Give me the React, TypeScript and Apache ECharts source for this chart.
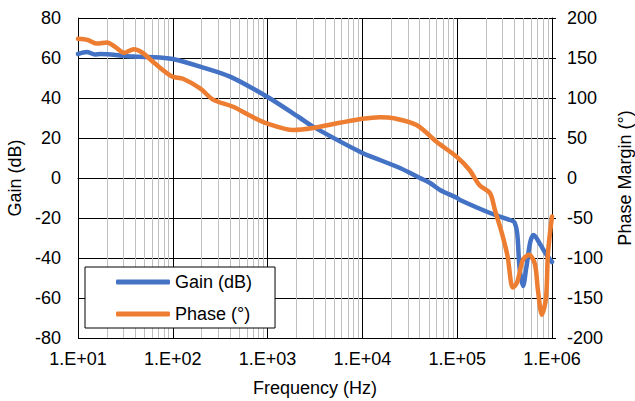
import React, { useEffect, useRef } from "react";
import * as echarts from "echarts";

// Gain (dB) readings
const gainFreq = [10, 12.4, 15.1, 17.1, 38, 73, 100, 194, 401, 1000, 2200, 3010, 10000, 15300, 24900, 40500, 51700, 65900, 100000, 107000, 222000, 361000, 400000, 430000, 455000, 495000, 535000, 590000, 640000, 747000, 865000, 1000000];
const gainDb = [62, 63, 61.8, 62, 60.7, 60.3, 59.5, 55.7, 50.7, 40.5, 30, 25.7, 12.5, 9, 5, 0, -2.5, -6, -10, -11, -17.5, -21, -22, -28, -45, -54, -45, -32, -28.5, -33, -38, -42];

// Phase (°) readings
const phaseFreq = [10, 12.7, 15.9, 20.2, 24.6, 30.6, 38.9, 47.3, 65, 98, 128, 194, 266, 433, 650, 1000, 1860, 3010, 5800, 10000, 15300, 22000, 37600, 61000, 100000, 135000, 172000, 222000, 250000, 296000, 340000, 386000, 427000, 495000, 574000, 661000, 710000, 782000, 865000, 907000, 1000000];
const phaseDeg = [174, 172.5, 168, 169.5, 164, 156.5, 161, 157, 143, 127, 124, 112, 98, 89, 78, 68, 60, 62.5, 69, 74, 76, 74.5, 66, 45, 26, 10, -9, -19, -40, -69, -98, -137, -131, -102, -96, -108, -140, -171, -150, -94, -48];

// Axis settings
const freqMin = 10;
const freqMax = 1000000;
const gainTicks = { min: -80, max: 80, interval: 20 };
const phaseTicks = { min: -200, max: 200, interval: 50 };

const minorFreqs: number[] = [];
for (let d = 1; d < 6; d++) {
  for (let k = 2; k <= 9; k++) minorFreqs.push(k * Math.pow(10, d));
}

const FONT = "'Liberation Sans', Arial, sans-serif";

export default function App() {
  const ref = useRef<HTMLDivElement>(null);
  useEffect(() => {
    if (!ref.current) return;
    const chart = echarts.init(ref.current, undefined, { renderer: "svg" });
    const gainData = gainFreq.map((f, i) => [f, gainDb[i]]);
    const phaseData = phaseFreq.map((f, i) => [f, phaseDeg[i]]);
    chart.setOption({
      animation: false,
      textStyle: { fontFamily: FONT },
      grid: { left: 78, right: 83, top: 18, bottom: 63, outerBoundsMode: "none", containLabel: false },
      legend: {
        data: ["Gain (dB)", "Phase (°)"],
        orient: "vertical",
        left: 85,
        top: 267,
        backgroundColor: "#fff",
        borderColor: "#000",
        borderWidth: 1,
        borderRadius: 0,
        padding: [5, 23, 4, 31],
        itemGap: 12,
        itemWidth: 54,
        itemHeight: 5,
        icon: "roundRect",
        textStyle: { fontSize: 18, color: "#000", fontFamily: FONT, lineHeight: 20, padding: [0, 0, 0, 0] },
      },
      xAxis: {
        type: "log",
        logBase: 10,
        min: freqMin,
        max: freqMax,
        name: "Frequency (Hz)",
        nameLocation: "middle",
        nameGap: 41,
        nameTextStyle: { fontSize: 18, color: "#000", fontFamily: FONT },
        axisLine: { show: true, lineStyle: { color: "#000", width: 1 } },
        axisTick: { show: false },
        axisLabel: {
          fontSize: 18,
          color: "#000",
          fontFamily: FONT,
          margin: 12,
          formatter: (v: number) => {
            const e = Math.round(Math.log10(v));
            return "1.E+" + String(e).padStart(2, "0");
          },
        },
        splitLine: { show: true, lineStyle: { color: "#000", width: 1 } },
      },
      yAxis: [
        {
          type: "value",
          min: gainTicks.min,
          max: gainTicks.max,
          interval: gainTicks.interval,
          name: "Gain (dB)",
          nameLocation: "middle",
          nameGap: 52,
          nameTextStyle: { fontSize: 18, color: "#000", fontFamily: FONT },
          axisLine: { show: true, lineStyle: { color: "#000", width: 1 } },
          axisTick: { show: false },
          axisLabel: { fontSize: 18, color: "#000", fontFamily: FONT, margin: 17 },
          splitLine: { show: true, lineStyle: { color: "#000", width: 1 } },
        },
        {
          type: "value",
          position: "right",
          min: phaseTicks.min,
          max: phaseTicks.max,
          interval: phaseTicks.interval,
          name: "Phase Margin (°)",
          nameLocation: "middle",
          nameGap: 64,
          nameRotate: 90,
          nameTextStyle: { fontSize: 18, color: "#000", fontFamily: FONT },
          axisLine: { show: true, lineStyle: { color: "#000", width: 1 } },
          axisTick: { show: true, inside: false, length: 4, lineStyle: { color: "#000" } },
          axisLabel: { fontSize: 18, color: "#000", fontFamily: FONT, margin: 15 },
          splitLine: { show: false },
        },
      ],
      series: [
        {
          type: "custom",
          name: "minorGrid",
          silent: true,
          z: 1,
          xAxisIndex: 0,
          yAxisIndex: 0,
          data: minorFreqs.map((v) => [v, 0]),
          encode: { x: 0, y: 1 },
          renderItem: (params: any, api: any) => {
            const x = Math.round(api.coord([api.value(0), 0])[0]) + 0.5;
            const cs = params.coordSys;
            return {
              type: "line",
              shape: { x1: x, y1: cs.y, x2: x, y2: cs.y + cs.height },
              style: { stroke: "#bfbfbf", lineWidth: 1 },
            };
          },
        },
        {
          name: "Gain (dB)",
          type: "line",
          yAxisIndex: 0,
          data: gainData,
          smooth: 0.3,
          showSymbol: false,
          symbol: "none",
          z: 3,
          color: "#4472C4",
          lineStyle: { width: 4.5, color: "#4472C4", cap: "round", join: "round" },
        },
        {
          name: "Phase (°)",
          type: "line",
          yAxisIndex: 1,
          data: phaseData,
          smooth: 0.3,
          showSymbol: false,
          symbol: "none",
          z: 4,
          color: "#ED7D31",
          lineStyle: { width: 4.5, color: "#ED7D31", cap: "round", join: "round" },
        },
      ],
    });
    return () => chart.dispose();
  }, []);
  return (
    <div
      ref={ref}
      style={{ position: "fixed", left: 0, top: 0, width: 635, height: 401, background: "#fff" }}
    />
  );
}
